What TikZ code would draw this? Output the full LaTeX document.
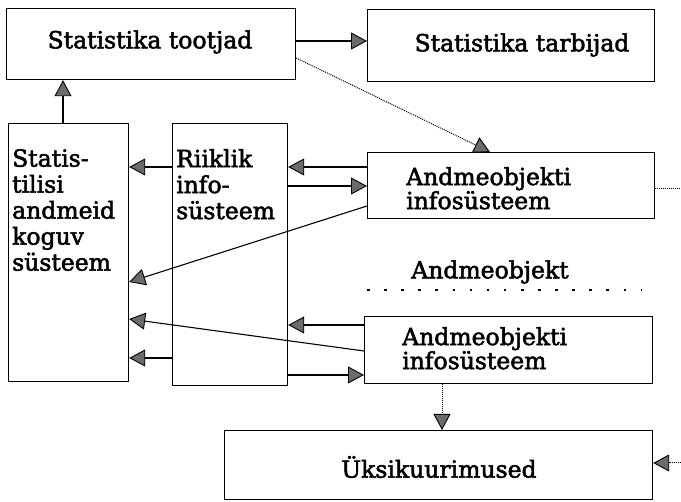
\documentclass[tikz,border=0pt]{standalone}
\usepackage{fontspec}
\setmainfont{DejaVu Serif}[FakeBold=2.2]
\usetikzlibrary{arrows.meta,calc}
\begin{document}
\begin{tikzpicture}[x=1pt,y=-1pt,
  box/.style={draw,line width=1.2pt,anchor=north west,inner sep=0},
  lbl/.style={font=\fontsize{23.5}{26}\selectfont,align=left,inner sep=0},
  tight/.style={font=\fontsize{23.5}{24}\selectfont},
  tip/.style={-{Triangle[length=16pt,width=17pt,fill=black!58,line width=0.9pt]}},
  arr/.style={line width=1.1pt,tip},
  dots/.style={line width=1pt,densely dotted,tip},
  dotline/.style={line width=1pt,densely dotted},
  bigdots/.style={line width=2.6pt,dash pattern=on 2.6pt off 14.5pt}]
\useasboundingbox (0,0) rectangle (681,502);

% boxes
\node[box,minimum width=289pt,minimum height=71pt] (prod)   at (6,8)   {};
\node[box,minimum width=287pt,minimum height=72pt] (cons)   at (367,9) {};
\node[box,minimum width=120pt,minimum height=258pt] (coll)  at (8,123)  {};
\node[box,minimum width=115pt,minimum height=262pt] (riik)  at (172,123) {};
\node[box,minimum width=287pt,minimum height=66pt] (obj1)   at (367,152) {};
\node[box,minimum width=288pt,minimum height=67pt] (obj2)   at (364,316) {};
\node[box,minimum width=428pt,minimum height=69pt] (single) at (224,430) {};

% texts
\node[lbl] (prodt)   at (150,42)  {Statistika tootjad};
\node[lbl] (const)   at (522,45)  {Statistika tarbijad};
\node[lbl,anchor=north west] (collt) at (12,149) {Statis-\\tilisi\\andmeid\\koguv\\süsteem};
\node[lbl,anchor=north west] (riikt) at (176,149) {Riiklik\\info-\\süsteem};
\node[lbl,tight,anchor=north west] (obj1t) at (406,167) {Andmeobjekti\\infosüsteem};
\node[lbl,tight,anchor=north west] (obj2t) at (402,327) {Andmeobjekti\\infosüsteem};
\node[lbl] (objt)    at (490,272) {Andmeobjekt};
\node[lbl] (singlet) at (439,467) {Üksikuurimused};

% free ends
\coordinate (rowL) at (367,290);
\coordinate (rowR) at (641,290);
\coordinate (out1) at (681,189);
\coordinate (in2)  at (681,463);

% connectors
\draw[arr] (prod.east |- 0,41) -- (cons.west |- 0,41);
\draw[dots] (prod.east |- 0,58) -- (obj1.north -| 490,0);
\draw[arr] (coll.north -| 63,0) -- (prod.south -| 63,0);

\draw[arr] (riik.west |- 0,167) -- (coll.east |- 0,167);
\draw[arr] (obj1.west |- 0,167) -- (riik.east |- 0,167);
\draw[arr] (riik.east |- 0,186) -- (obj1.west |- 0,186);
\draw[arr] (obj1.west |- 0,206) -- (coll.east |- 0,282);
\draw[dotline] (obj1.east |- out1) -- (out1);

\draw[bigdots] (rowL) -- (rowR);

\draw[arr] (obj2.west |- 0,325) -- (riik.east |- 0,325);
\draw[arr] (obj2.west |- 0,351) -- (coll.east |- 0,319);
\draw[arr] (riik.west |- 0,358) -- (coll.east |- 0,358);
\draw[arr] (riik.east |- 0,375) -- (obj2.west |- 0,375);

\draw[dots] (obj2.south -| 442,0) -- (single.north -| 442,0);
\draw[dots] (in2) -- (single.east |- in2);
\end{tikzpicture}
\end{document}
